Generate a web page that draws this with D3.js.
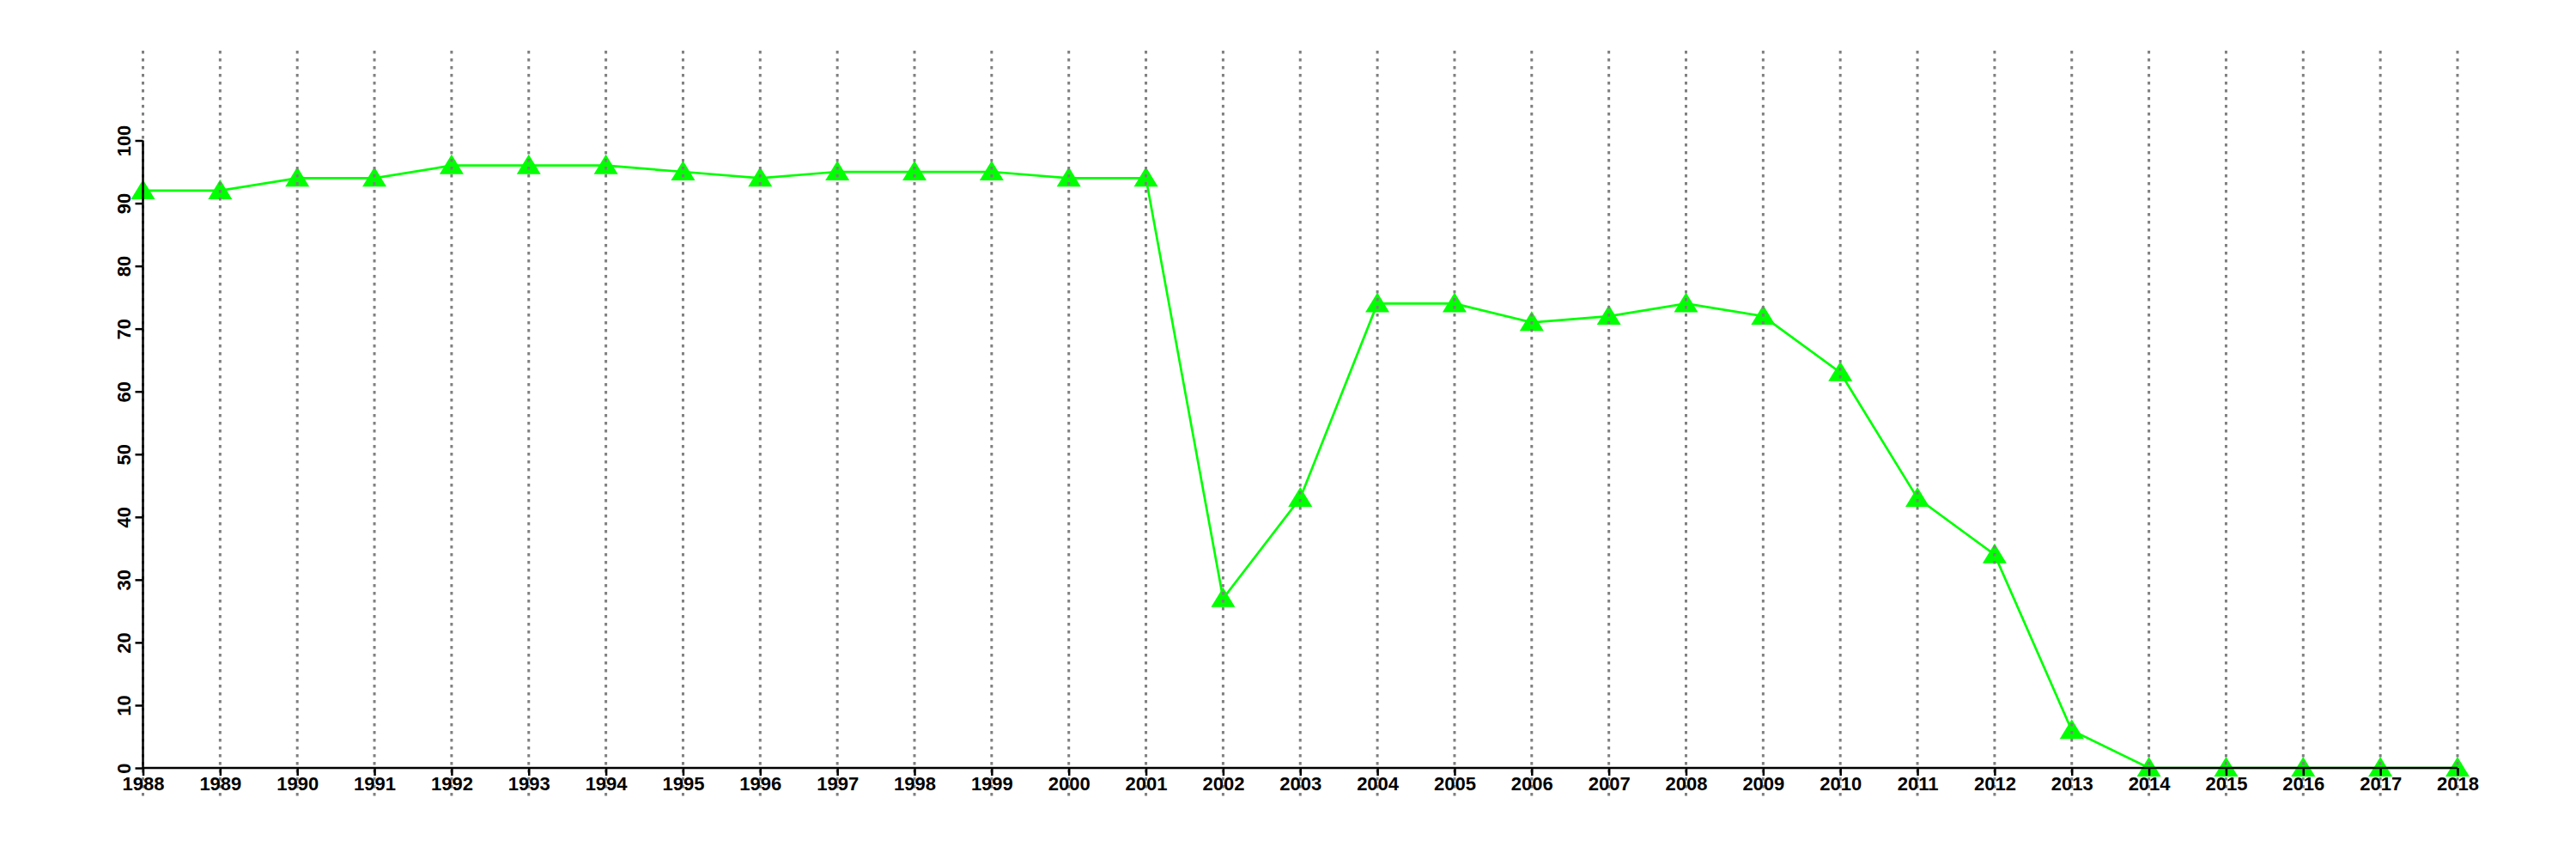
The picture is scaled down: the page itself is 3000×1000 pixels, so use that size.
<!DOCTYPE html>
<html><head><meta charset="utf-8">
<script src="https://cdn.jsdelivr.net/npm/d3@7"></script>
<style>body{margin:0;background:#fff}svg{display:block}</style>
</head><body>
<script>
const years = [1988,1989,1990,1991,1992,1993,1994,1995,1996,1997,1998,1999,2000,2001,2002,2003,2004,2005,2006,2007,2008,2009,2010,2011,2012,2013,2014,2015,2016,2017,2018];
const values = [92,92,94,94,96,96,96,95,94,95,95,95,94,94,27,43,74,74,71,72,74,72,63,43,34,6,0,0,0,0,0];
const yTicks = [0,10,20,30,40,50,60,70,80,90,100];

const W = 3000, H = 1000;
const svg = d3.select("body").append("svg").attr("width", W).attr("height", H);
const x = d3.scaleLinear().domain([1988, 2018]).range([166.5, 2862]);
const y = d3.scaleLinear().domain([0, 100]).range([894, 163.5]);
const font = "'Liberation Sans', Arial, Helvetica, sans-serif";

// line
svg.append("path").datum(years.map((d,i)=>[d, values[i]]))
  .attr("fill","none").attr("stroke","#00ff00").attr("stroke-width",2.7)
  .attr("d", d3.line().x(d=>x(d[0])).y(d=>y(d[1])));

// markers
svg.selectAll("path.tri").data(years.map((d,i)=>[d, values[i]])).enter().append("path")
  .attr("class","tri").attr("fill","#00ff00")
  .attr("d", d => `M${x(d[0])},${y(d[1])-13} L${x(d[0])+14},${y(d[1])+10} L${x(d[0])-14},${y(d[1])+10} Z`);

// vertical dotted grid
svg.selectAll("line.grid").data(years).enter().append("line")
  .attr("x1", d=>x(d)).attr("x2", d=>x(d)).attr("y1", 59).attr("y2", 928)
  .attr("stroke","#808080").attr("stroke-width",3).attr("stroke-dasharray","3.5,5.5");

// y axis
const yAxis = svg.append("g").attr("transform", `translate(${x(1988)},0)`)
  .call(d3.axisLeft(y).tickValues(yTicks).tickSize(9).tickPadding(6).tickFormat(d3.format("d")));
yAxis.select(".domain").attr("stroke","#000").attr("stroke-width",2.5).attr("d", `M0,${y(0)}V${y(100)}`);
yAxis.selectAll(".tick line").attr("stroke","#000").attr("stroke-width",2.5);
yAxis.selectAll(".tick text").attr("font-family",font).attr("font-weight","bold").attr("font-size",22).attr("fill","#000")
  .attr("transform","rotate(-90)").attr("x",0).attr("y",-15).attr("dy","0").attr("text-anchor","middle");

// x axis
const xAxis = svg.append("g").attr("transform", `translate(0,${y(0)})`)
  .call(d3.axisBottom(x).tickValues(years).tickSize(9).tickPadding(3).tickFormat(d3.format("d")));
xAxis.select(".domain").attr("stroke","#000").attr("stroke-width",2.5).attr("d", `M${x(1988)},0H${x(2018)}`);
xAxis.selectAll(".tick line").attr("stroke","#000").attr("stroke-width",2.5);
xAxis.selectAll(".tick text").attr("font-family",font).attr("font-weight","bold").attr("font-size",22).attr("fill","#000")
  .attr("y",26).attr("dy","0");
</script>
</body></html>
